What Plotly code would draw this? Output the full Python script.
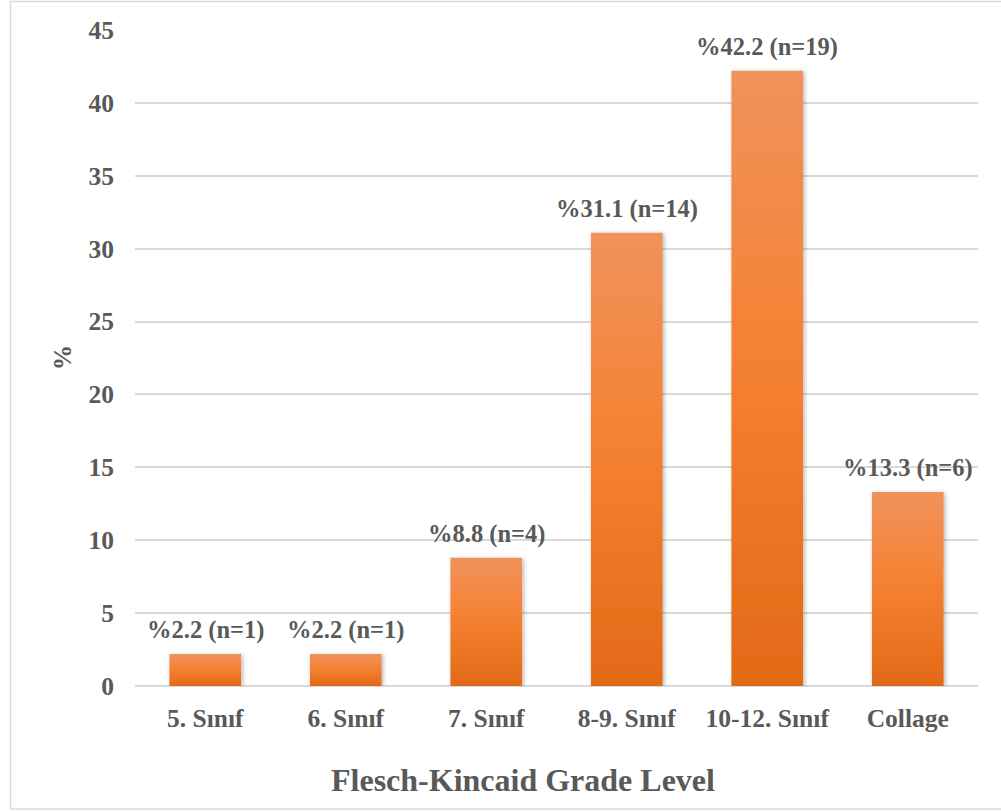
import plotly.graph_objects as go

# Readability distribution by Flesch-Kincaid grade level
categories = ["5. Sınıf", "6. Sınıf", "7. Sınıf", "8-9. Sınıf", "10-12. Sınıf", "Collage"]
percent = [2.2, 2.2, 8.8, 31.1, 42.2, 13.3]
counts = [1, 1, 4, 14, 19, 6]
y_ticks = [0, 5, 10, 15, 20, 25, 30, 35, 40, 45]

TEXT = "#595959"
GRID = "#D9D9D9"
FONT = "Liberation Serif, Times New Roman, serif"

W, H = 1001, 811
ML, MR, MT, MB = 135, 23, 30, 125
PW, PH = W - ML - MR, H - MT - MB


def px_x(x):
    return (x - ML) / PW


def px_y(y):
    return (H - MB - y) / PH


fig = go.Figure(
    go.Bar(
        x=categories,
        y=percent,
        marker=dict(color="#F07D30", line=dict(width=0)),
        hoverinfo="skip",
    )
)

# value labels above each bar
for cat, p, n in zip(categories, percent, counts):
    fig.add_annotation(
        x=cat, y=p, xref="x", yref="y",
        text=f"<b>%{p:.1f} (n={n})</b>",
        showarrow=False, yanchor="bottom", yshift=8,
        font=dict(family=FONT, size=24.5, color=TEXT),
    )

# axis titles
fig.add_annotation(
    x=px_x(523), y=px_y(780), xref="paper", yref="paper",
    text="<b>Flesch-Kincaid Grade Level</b>", showarrow=False,
    xanchor="center", yanchor="middle",
    font=dict(family=FONT, size=32, color=TEXT),
)
fig.add_annotation(
    x=px_x(62), y=0.5, xref="paper", yref="paper",
    text="<b>%</b>", showarrow=False, textangle=-90,
    xanchor="center", yanchor="middle",
    font=dict(family=FONT, size=25, color=TEXT),
)

# outer chart frame
fig.add_shape(
    type="rect", xref="paper", yref="paper",
    x0=px_x(10.5), x1=px_x(1010), y0=px_y(809), y1=px_y(1.5),
    line=dict(color=GRID, width=1.5), fillcolor="rgba(0,0,0,0)", layer="below",
)

fig.update_layout(
    width=W, height=H,
    margin=dict(l=ML, r=MR, t=MT, b=MB),
    paper_bgcolor="white", plot_bgcolor="white",
    bargap=0.49,
    showlegend=False,
    font=dict(family=FONT, color=TEXT),
)
fig.update_xaxes(
    showgrid=False, showline=False, ticks="",
    tickfont=dict(family=FONT, size=25.5, color=TEXT, weight="bold"),
    ticklabelstandoff=14,
)
fig.update_yaxes(
    range=[0, 45], tickvals=y_ticks, ticks="",
    showgrid=True, gridcolor=GRID, gridwidth=1.5,
    zeroline=True, zerolinecolor=GRID, zerolinewidth=2,
    showline=False,
    tickfont=dict(family=FONT, size=25.5, color=TEXT, weight="bold"),
    ticklabelstandoff=20,
)

# vertical orange gradient and soft shadow on the bars
post = """
(function(){
  var gd = document.getElementsByClassName('plotly-graph-div')[0];
  function paint(){
    var svg = gd.querySelector('svg.main-svg');
    if (!svg) return;
    var ns = 'http://www.w3.org/2000/svg';
    if (!document.getElementById('barGrad')) {
      var defs = document.createElementNS(ns, 'defs');
      defs.innerHTML =
        '<linearGradient id="barGrad" x1="0" y1="0" x2="0" y2="1">' +
        '<stop offset="0" stop-color="#F0925C"/>' +
        '<stop offset="0.45" stop-color="#F58233"/>' +
        '<stop offset="1" stop-color="#E26917"/>' +
        '</linearGradient>' +
        '<filter id="barShadow" x="-20%" y="-5%" width="140%" height="110%">' +
        '<feDropShadow dx="1.5" dy="1" stdDeviation="2" flood-color="#000" flood-opacity="0.3"/>' +
        '</filter>';
      svg.insertBefore(defs, svg.firstChild);
    }
    gd.querySelectorAll('.bars .point path').forEach(function(p){
      p.style.fill = 'url(#barGrad)';
      p.setAttribute('filter', 'url(#barShadow)');
    });
  }
  paint();
  gd.on && gd.on('plotly_afterplot', paint);
})();
"""

fig.write_html("out.html", post_script=post)
